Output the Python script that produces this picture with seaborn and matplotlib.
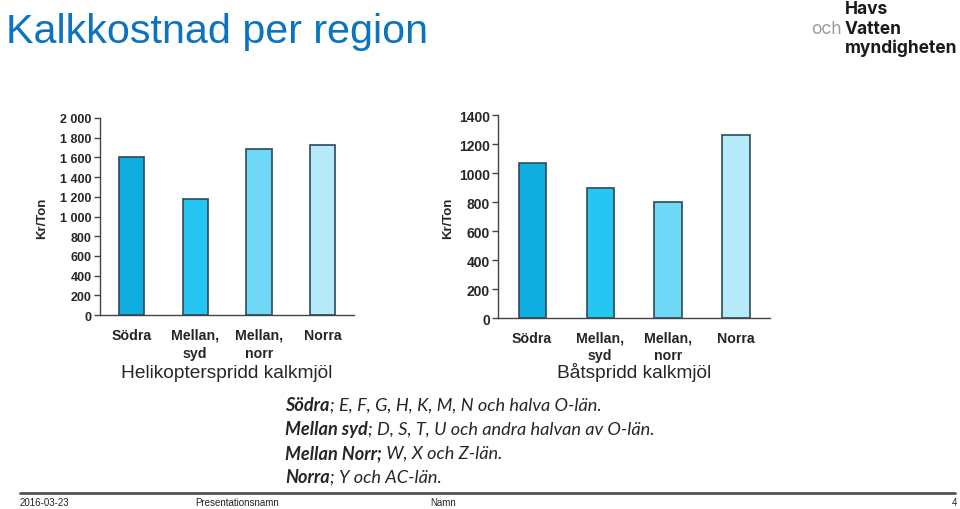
import pandas as pd
import numpy as np
import matplotlib
matplotlib.use('Agg')
import matplotlib.pyplot as plt
import seaborn as sns

# data
regions = ['Södra', 'Mellan,\nsyd', 'Mellan,\nnorr', 'Norra']
heli_cost = [1600, 1180, 1685, 1720]
bat_cost = [1070, 895, 800, 1260]
bar_colors = ['#0EAEE0', '#25C6F2', '#6ED8F6', '#B5EAFA']
heli_ticks = [0, 200, 400, 600, 800, 1000, 1200, 1400, 1600, 1800, 2000]
heli_ticklabels = ['0', '200', '400', '600', '800', '1 000', '1 200', '1 400', '1 600', '1 800', '2 000']
bat_ticks = [0, 200, 400, 600, 800, 1000, 1200, 1400]

sns.set_style('white')
plt.rcParams['font.family'] = ['Liberation Sans', 'DejaVu Sans']

fig = plt.figure(figsize=(9.6, 5.1), dpi=100)


def draw_panel(ax, values, ymax, ticks, ticklabels, xlabel, ytick_size):
    df = pd.DataFrame({'region': regions, 'cost': values})
    sns.barplot(data=df, x='region', y='cost', hue='region', palette=bar_colors, saturation=1,
                width=0.4, edgecolor='#2E4A57', linewidth=1.2, legend=False, ax=ax)
    ax.set_ylim(0, ymax)
    ax.set_xlim(-0.5, 3.5)
    ax.set_yticks(ticks)
    ax.set_yticklabels(ticklabels, fontsize=ytick_size, fontweight='bold')
    ax.set_xticks(range(4))
    ax.set_xticklabels(regions, fontsize=10.2, fontweight='bold', linespacing=1.35, va='top')
    ax.set_xticks([0.5, 1.5, 2.5], minor=True)
    ax.tick_params(axis='x', which='major', length=0, pad=9)
    ax.tick_params(axis='x', which='minor', length=4, width=1, direction='out', color='#444444')
    ax.tick_params(axis='y', length=4, width=1, direction='out', color='#444444', pad=2, left=True)
    for s in ['top', 'right']:
        ax.spines[s].set_visible(False)
    for s in ['left', 'bottom']:
        ax.spines[s].set_color('#444444')
        ax.spines[s].set_linewidth(1)
    ax.set_xlabel(xlabel, fontsize=13.8, labelpad=3)
    ax.set_ylabel('')


ax1 = fig.add_axes([0.104, 0.380, 0.265, 0.387])
draw_panel(ax1, heli_cost, 2000, heli_ticks, heli_ticklabels, 'Helikopterspridd kalkmjöl', 9)
fig.text(42 / 960, 1 - 218 / 510, 'Kr/Ton', rotation=90, fontsize=9.5, fontweight='bold',
         ha='center', va='center')

ax2 = fig.add_axes([0.519, 0.3745, 0.283, 0.398])
draw_panel(ax2, bat_cost, 1400, bat_ticks, [str(t) for t in bat_ticks], 'Båtspridd kalkmjöl', 10)
ax2.xaxis.labelpad = 0
fig.text(448 / 960, 1 - 218 / 510, 'Kr/Ton', rotation=90, fontsize=9.5, fontweight='bold',
         ha='center', va='center')

# title
fig.text(6 / 960, 1 - 32 / 510, 'Kalkkostnad per region', fontsize=29.7, color='#0A74C0',
         ha='left', va='center')

# logo text
logo_font = ['Inter', 'DejaVu Sans']
fig.text(845 / 960, 1 - 9 / 510, 'Havs', fontsize=12.5, family=logo_font, weight='bold',
         ha='left', va='center', color='#1A1A1A')
fig.text(845 / 960, 1 - 29 / 510, 'Vatten', fontsize=12.5, family=logo_font, weight='bold',
         ha='left', va='center', color='#1A1A1A')
fig.text(842 / 960, 1 - 29 / 510, 'och', fontsize=12.5, family=logo_font,
         ha='right', va='center', color='#9A9A9A')
fig.text(845 / 960, 1 - 48 / 510, 'myndigheten', fontsize=12.5, family=logo_font, weight='bold',
         ha='left', va='center', color='#1A1A1A')

# region notes
notes = [('Södra', '; E, F, G, H, K, M, N och halva O-län.'),
         ('Mellan syd', '; D, S, T, U och andra halvan av O-län.'),
         ('Mellan Norr;', ' W, X och Z-län.'),
         ('Norra', '; Y och AC-län.')]
note_y = [406, 430, 454, 478]
for (b, rest), yy in zip(notes, note_y):
    t = fig.text(285 / 960, 1 - yy / 510, b, fontsize=13.1, family=['Lato', 'DejaVu Sans'],
                 style='italic', weight='bold', ha='left', va='center')
    fig.canvas.draw()
    bb = t.get_window_extent()
    fig.text(bb.x1 / 960, 1 - yy / 510, rest, fontsize=13.1, family=['Lato', 'DejaVu Sans'],
             style='italic', ha='left', va='center')

# footer
fig.add_artist(plt.Line2D([20 / 960, 955 / 960], [1 - 494 / 510, 1 - 494 / 510],
                          color='#555555', linewidth=2))
for x, s, ha in [(20, '2016-03-23', 'left'), (195, 'Presentationsnamn', 'left'),
                 (430, 'Namn', 'left'), (957, '4', 'right')]:
    fig.text(x / 960, 1 - 503 / 510, s, fontsize=7, ha=ha, va='center', color='#222222')

fig.savefig('out.png', dpi=100)
